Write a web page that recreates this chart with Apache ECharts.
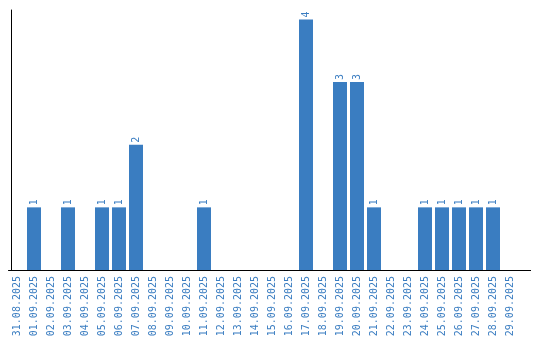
<!DOCTYPE html>
<html><head><meta charset="utf-8">
<script src="https://cdn.jsdelivr.net/npm/echarts@6/dist/echarts.min.js"></script>
<style>html,body{margin:0;padding:0;background:#fff}#c{width:540px;height:340px}</style>
</head><body><div id="c"></div>
<script>
const categories = ["31.08.2025","01.09.2025","02.09.2025","03.09.2025","04.09.2025","05.09.2025","06.09.2025","07.09.2025","08.09.2025","09.09.2025","10.09.2025","11.09.2025","12.09.2025","13.09.2025","14.09.2025","15.09.2025","16.09.2025","17.09.2025","18.09.2025","19.09.2025","20.09.2025","21.09.2025","22.09.2025","23.09.2025","24.09.2025","25.09.2025","26.09.2025","27.09.2025","28.09.2025","29.09.2025"];
const counts = [0,1,0,1,0,1,1,2,0,0,0,1,0,0,0,0,0,4,0,3,3,1,0,0,1,1,1,1,1,0];
const blue = '#3a7dc1';
const font = 'DejaVu Sans Mono';
const chart = echarts.init(document.getElementById('c'), null, {renderer:'canvas'});
chart.setOption({
  animation:false,
  grid:{left:8.5, top:10, width:510, height:260, containLabel:false},
  xAxis:{type:'category', data:categories, boundaryGap:true,
    axisLine:{show:true, lineStyle:{color:'#000', width:1}},
    axisTick:{show:false},
    axisLabel:{rotate:90, interval:0, color:blue, fontFamily:font, fontSize:10, margin:6}},
  yAxis:{type:'value', min:0, max:4.15, offset:-2.5,
    axisLine:{show:true, lineStyle:{color:'#000', width:1}},
    axisTick:{show:false}, axisLabel:{show:false}, splitLine:{show:false}},
  series:[{type:'bar', data:counts.map(v => v === 0 ? null : v), barWidth:14,
    itemStyle:{color:blue},
    label:{show:true, position:'top', rotate:90, align:'left', verticalAlign:'middle', distance:2,
      color:blue, fontFamily:font, fontSize:10}}],
  graphic:[{type:'line', shape:{x1:518, y1:270.5, x2:531, y2:270.5}, style:{stroke:'#000', lineWidth:1}}]
});
</script></body></html>
